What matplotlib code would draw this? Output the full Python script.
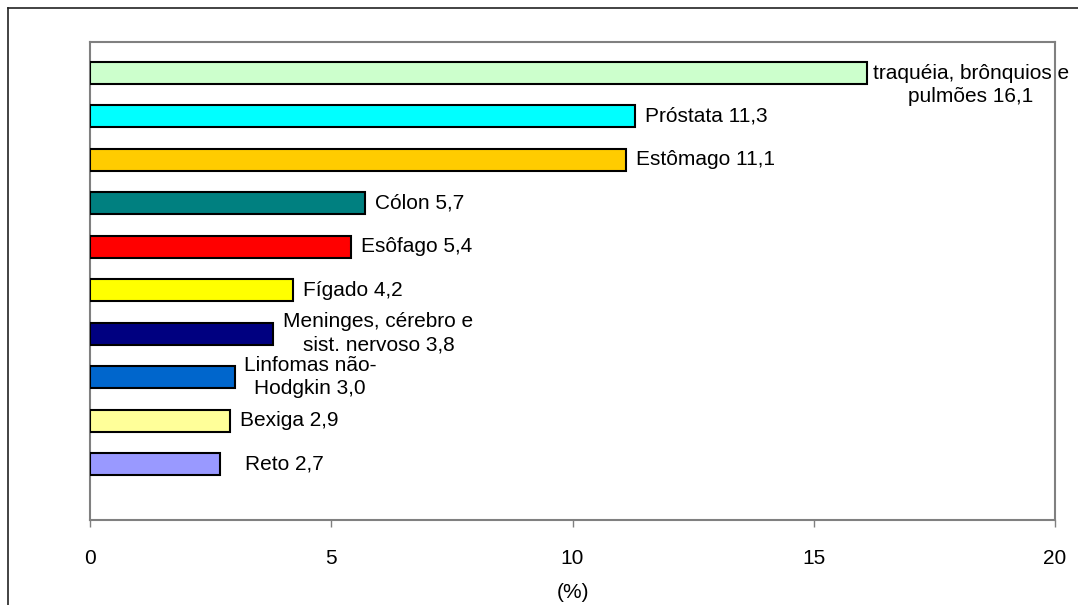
import matplotlib.pyplot as plt
from matplotlib.lines import Line2D

plt.rcParams['font.family'] = ['Liberation Sans', 'DejaVu Sans']

# dados
categorias = ['traquéia, brônquios e\npulmões', 'Próstata', 'Estômago', 'Cólon', 'Esôfago',
              'Fígado', 'Meninges, cérebro e\nsist. nervoso', 'Linfomas não-\nHodgkin',
              'Bexiga', 'Reto']
valores = [16.1, 11.3, 11.1, 5.7, 5.4, 4.2, 3.8, 3.0, 2.9, 2.7]
cores = ['#CCFFCC', '#00FFFF', '#FFCC00', '#008080', '#FF0000',
         '#FFFF00', '#000080', '#0066CC', '#FFFF99', '#9999FF']
xticks = [0, 5, 10, 15, 20]

# deslocamento dos rotulos (pixels)
offsets = [(6, -12), (10, 0), (10, 0), (10, 0), (10, 0),
           (10, 0), (10, 0), (9, 0), (10, 0), (25, 0)]

fig = plt.figure(figsize=(10.78, 6.05), dpi=100)
ax = fig.add_axes([90/1078, 85/605, 965/1078, 478/605])

pos = list(range(len(valores)))
ax.barh(pos, valores, height=0.506, color=cores, edgecolor='black', linewidth=1.5, zorder=3)

for i, (v, cat) in enumerate(zip(valores, categorias)):
    dx, dy = offsets[i]
    ax.annotate(f"{cat} {str(v).replace('.', ',')}", xy=(v, i), xytext=(dx * 0.72, dy * 0.72),
                textcoords='offset points', ha='left', va='center', multialignment='center',
                fontsize=15, linespacing=1.3, annotation_clip=False, zorder=4)

ax.set_xlim(0, 20)
ax.set_ylim(10.29, -0.714)
ax.set_xticks(xticks)
ax.set_xticklabels([str(t) for t in xticks], fontsize=15)
ax.set_yticks([])
ax.tick_params(axis='x', direction='out', length=5, width=1, color='#808080', pad=16)
for s in ax.spines.values():
    s.set_color('#808080')
    s.set_linewidth(1.5)
ax.set_xlabel('(%)', fontsize=15, labelpad=11)

# moldura externa
fig.add_artist(Line2D([8/1078, 8/1078], [0, 1 - 8/605], transform=fig.transFigure,
                      color='#222222', linewidth=1.2))
fig.add_artist(Line2D([8/1078, 1], [1 - 8/605, 1 - 8/605], transform=fig.transFigure,
                      color='#222222', linewidth=1.2))

fig.savefig('out.png', dpi=100)
